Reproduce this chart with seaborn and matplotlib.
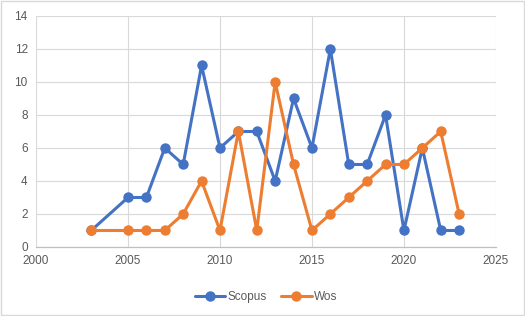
import matplotlib
matplotlib.use("Agg")
import matplotlib.pyplot as plt
import seaborn as sns
import pandas as pd

years = [2003, 2005, 2006, 2007, 2008, 2009, 2010, 2011, 2012, 2013,
         2014, 2015, 2016, 2017, 2018, 2019, 2020, 2021, 2022, 2023]
scopus = [1, 3, 3, 6, 5, 11, 6, 7, 7, 4, 9, 6, 12, 5, 5, 8, 1, 6, 1, 1]
wos = [1, 1, 1, 1, 2, 4, 1, 7, 1, 10, 5, 1, 2, 3, 4, 5, 5, 6, 7, 2]
series_names = ["Scopus", "Wos"]
x_ticks = [2000, 2005, 2010, 2015, 2020, 2025]
y_ticks = [0, 2, 4, 6, 8, 10, 12, 14]

df = pd.concat([
    pd.DataFrame({"year": years, "count": scopus, "source": series_names[0]}),
    pd.DataFrame({"year": years, "count": wos, "source": series_names[1]}),
])

sns.set_style("white")
plt.rcParams["font.family"] = ["Liberation Sans", "DejaVu Sans"]

fig = plt.figure(figsize=(5.25, 3.16), dpi=100)
ax = fig.add_axes([0.0686, 0.2184, 0.876, 0.731])

palette = {"Scopus": "#4472C4", "Wos": "#ED7D31"}
sns.lineplot(data=df, x="year", y="count", hue="source", palette=palette,
             marker="o", markersize=7.5, markeredgewidth=0, linewidth=2.2,
             ax=ax, legend=True, sort=False, zorder=3)

ax.set_xlim(2000, 2025)
ax.set_ylim(0, 14)
ax.set_xticks(x_ticks)
ax.set_yticks(y_ticks)
ax.grid(True, color="#d9d9d9", linewidth=0.8, zorder=0)
ax.set_axisbelow(True)
for s in ["top", "right", "left"]:
    ax.spines[s].set_visible(False)
ax.spines["bottom"].set_color("#bfbfbf")
ax.spines["bottom"].set_linewidth(0.9)
ax.tick_params(axis="both", length=0, labelsize=8.5, colors="#595959", pad=6)
ax.set_xlabel("")
ax.set_ylabel("")

handles, labels = ax.get_legend_handles_labels()
ax.legend(handles, labels, loc="center", bbox_to_anchor=(0.5, -0.215),
          ncol=2, frameon=False, fontsize=8.5, labelcolor="#595959",
          handlelength=2.6, handletextpad=0.2, columnspacing=1.2)

fig.patches.append(plt.Rectangle((0.001, 0.002), 0.997, 0.995, transform=fig.transFigure,
                                 fill=False, edgecolor="#d9d9d9", linewidth=1))

fig.savefig("out.png", dpi=100)
